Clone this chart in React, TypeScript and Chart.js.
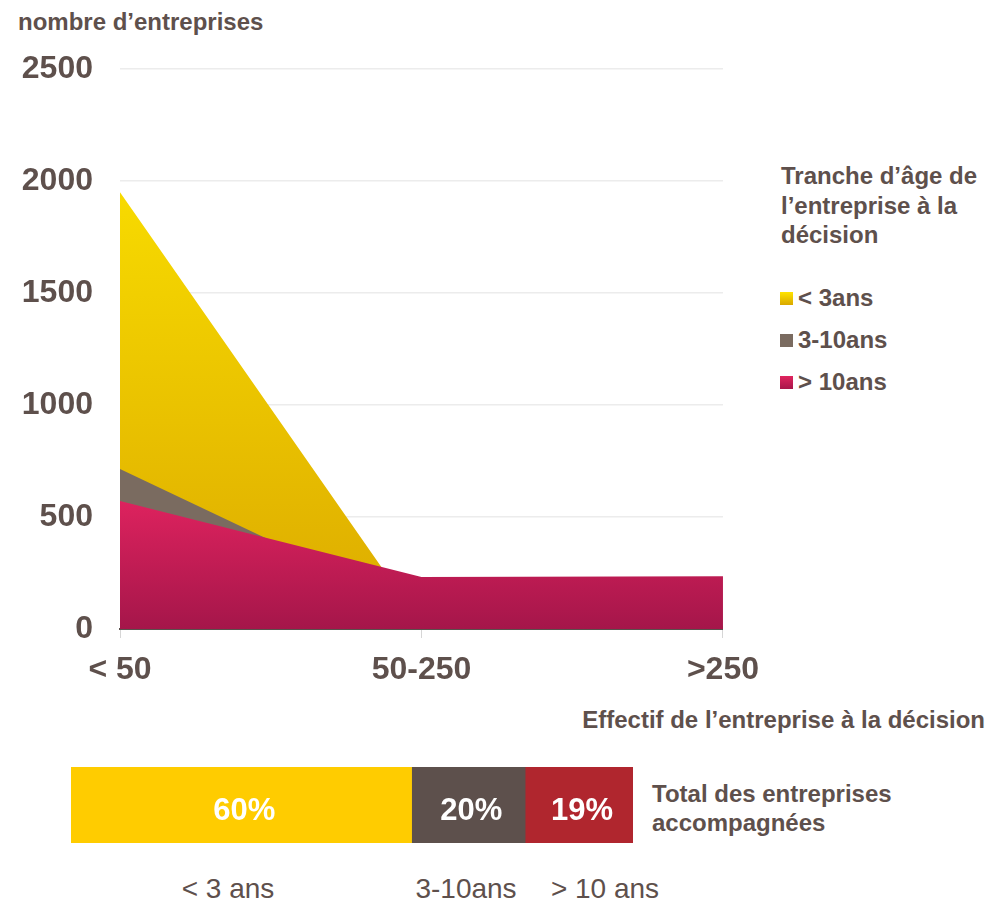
import React, { useEffect, useRef } from "react";
import { Chart, registerables, ChartConfiguration } from "chart.js";

Chart.register(...registerables);

// effectif de l'entreprise à la décision
const categories = ["< 50", "50-250", ">250"];
// nombre d'entreprises par tranche d'âge
const moins3ans = [1950, 20, 15];
const de3a10ans = [714, 76, 10];
const plus10ans = [571, 232, 236];
const yMax = 2500;
const yStep = 500;

const ageLabels = ["< 3ans", "3-10ans", "> 10ans"];

// total des entreprises accompagnées (%)
const totalLabels = ["< 3 ans", "3-10ans", "> 10 ans"];
const totalShares = [60, 20, 19];

const FONT = "'Liberation Sans', Arial, sans-serif";
const TEXT = "#5e504c";

function gradient(
  chart: Chart,
  from: number,
  to: number,
  c1: string,
  c2: string
) {
  const g = chart.ctx.createLinearGradient(0, from, 0, to);
  g.addColorStop(0, c1);
  g.addColorStop(1, c2);
  return g;
}

function AreaChart() {
  const chartRef = useRef<HTMLCanvasElement | null>(null);
  const chartInstance = useRef<Chart | null>(null);

  useEffect(() => {
    if (!chartRef.current) return;
    if (chartInstance.current) chartInstance.current.destroy();

    const config: ChartConfiguration = {
      type: "line",
      data: {
        labels: categories,
        datasets: [
          {
            label: ageLabels[0],
            data: moins3ans,
            order: 3,
            fill: "origin",
            borderWidth: 0,
            pointRadius: 0,
            tension: 0,
            backgroundColor: (c: any) => {
              const { chart } = c;
              if (!chart.chartArea) return "#f0c800";
              return gradient(
                chart,
                chart.chartArea.top,
                chart.chartArea.bottom,
                "#ffe800",
                "#dcaa00"
              );
            },
          },
          {
            label: ageLabels[1],
            data: de3a10ans,
            order: 2,
            fill: "origin",
            borderWidth: 0,
            pointRadius: 0,
            tension: 0,
            backgroundColor: "#7a6b60",
          },
          {
            label: ageLabels[2],
            data: plus10ans,
            order: 1,
            fill: "origin",
            borderWidth: 0,
            pointRadius: 0,
            tension: 0,
            backgroundColor: (c: any) => {
              const { chart } = c;
              if (!chart.chartArea) return "#c81c52";
              return gradient(
                chart,
                chart.scales.y.getPixelForValue(600),
                chart.chartArea.bottom,
                "#e0235f",
                "#a5164a"
              );
            },
          },
        ],
      },
      options: {
        responsive: true,
        maintainAspectRatio: false,
        animation: false,
        layout: { padding: { top: 69, right: 38, left: 0, bottom: 0 } },
        plugins: {
          legend: { display: false },
          tooltip: { enabled: false },
        },
        scales: {
          x: {
            offset: false,
            afterFit: (scale) => {
              scale.height = 71;
            },
            grid: {
              drawOnChartArea: false,
              tickLength: 9,
              color: "#d6d6d6",
            },
            border: { display: true, color: "#5a514d", width: 2 },
            ticks: {
              autoSkip: false,
              maxRotation: 0,
              padding: 13,
              color: TEXT,
              font: { family: FONT, size: 32, weight: "bold" },
            },
          },
          y: {
            min: 0,
            max: yMax,
            afterFit: (scale) => {
              scale.width = 120;
            },
            grid: { drawTicks: false, color: "#ececec", lineWidth: 1.5 },
            border: { display: false },
            ticks: {
              stepSize: yStep,
              padding: 27,
              color: TEXT,
              font: { family: FONT, size: 32, weight: "bold" },
              callback: (v) => String(v),
            },
          },
        },
      },
    };

    chartInstance.current = new Chart(chartRef.current, config);
    return () => {
      if (chartInstance.current) chartInstance.current.destroy();
      chartInstance.current = null;
    };
  }, []);

  return (
    <div style={{ position: "absolute", left: 0, top: 0, width: 772, height: 700 }}>
      <canvas ref={chartRef} />
    </div>
  );
}

const shareColors = ["#ffcc00", "#5d504c", "#b0262e"];

const percentLabels = {
  id: "percentLabels",
  afterDatasetsDraw(chart: Chart) {
    const { ctx } = chart;
    ctx.save();
    ctx.fillStyle = "#ffffff";
    ctx.font = `bold 31px ${FONT}`;
    ctx.textAlign = "center";
    ctx.textBaseline = "middle";
    chart.data.datasets.forEach((ds, i) => {
      const bar: any = chart.getDatasetMeta(i).data[0];
      if (!bar) return;
      const x = (bar.x + bar.base) / 2 + 3;
      ctx.fillText(`${ds.data[0]}%`, x, bar.y + 6);
    });
    ctx.restore();
  },
};

function ShareBar() {
  const chartRef = useRef<HTMLCanvasElement | null>(null);
  const chartInstance = useRef<Chart | null>(null);

  useEffect(() => {
    if (!chartRef.current) return;
    if (chartInstance.current) chartInstance.current.destroy();

    const config: ChartConfiguration = {
      type: "bar",
      data: {
        labels: ["Total"],
        datasets: totalShares.map((v, i) => ({
          label: totalLabels[i],
          data: [v],
          backgroundColor: shareColors[i],
          borderWidth: 0,
          barPercentage: 1,
          categoryPercentage: 1,
        })),
      },
      options: {
        indexAxis: "y",
        responsive: true,
        maintainAspectRatio: false,
        animation: false,
        layout: { padding: 0 },
        plugins: {
          legend: { display: false },
          tooltip: { enabled: false },
        },
        scales: {
          x: {
            stacked: true,
            min: 0,
            max: totalShares.reduce((a, b) => a + b, 0),
            display: false,
          },
          y: { stacked: true, display: false },
        },
      },
      plugins: [percentLabels],
    };

    chartInstance.current = new Chart(chartRef.current, config);
    return () => {
      if (chartInstance.current) chartInstance.current.destroy();
      chartInstance.current = null;
    };
  }, []);

  return (
    <div style={{ position: "absolute", left: 71, top: 767, width: 562, height: 76 }}>
      <canvas ref={chartRef} />
    </div>
  );
}

const legendSwatches = [
  "linear-gradient(#ffe400, #d9a800)",
  "#7a6b60",
  "linear-gradient(#e0245e, #a8164a)",
];
const bottomLabelX = [228, 466, 605];

export default function App() {
  useEffect(() => {
    document.body.style.margin = "0";
  }, []);

  const bold: React.CSSProperties = {
    position: "absolute",
    fontFamily: FONT,
    fontWeight: "bold",
    fontSize: 24,
    color: TEXT,
    whiteSpace: "nowrap",
  };

  return (
    <div style={{ position: "relative", width: 986, height: 903, background: "#fff", overflow: "hidden" }}>
      <div style={{ ...bold, left: 18, top: 8, lineHeight: "28px" }}>nombre d’entreprises</div>
      <AreaChart />
      <div style={{ ...bold, left: 781, top: 161, lineHeight: "29.5px" }}>
        Tranche d’âge de
        <br />
        l’entreprise à la
        <br />
        décision
      </div>
      {ageLabels.map((l, i) => (
        <div key={l} style={{ ...bold, left: 780, top: 284 + i * 42, lineHeight: "28px", display: "flex", alignItems: "center" }}>
          <span style={{ display: "inline-block", width: 13, height: 13, background: legendSwatches[i], marginRight: 5 }} />
          {l}
        </div>
      ))}
      <div style={{ ...bold, right: 1, top: 706, lineHeight: "28px" }}>Effectif de l’entreprise à la décision</div>
      <ShareBar />
      <div style={{ ...bold, left: 652, top: 779, lineHeight: "29px" }}>
        Total des entreprises
        <br />
        accompagnées
      </div>
      {totalLabels.map((l, i) => (
        <div
          key={l}
          style={{
            position: "absolute",
            left: bottomLabelX[i],
            top: 873,
            transform: "translateX(-50%)",
            fontFamily: FONT,
            fontSize: 28,
            lineHeight: "32px",
            color: TEXT,
            whiteSpace: "nowrap",
          }}
        >
          {l}
        </div>
      ))}
    </div>
  );
}
